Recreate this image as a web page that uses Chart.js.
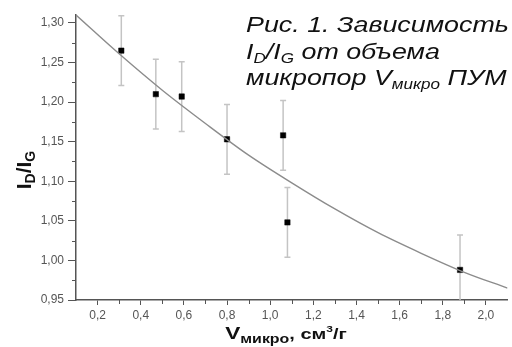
<!DOCTYPE html>
<html>
<head>
<meta charset="utf-8">
<script src="https://cdn.jsdelivr.net/npm/chart.js"></script>
<style>
  html, body { margin: 0; padding: 0; background: #fff; }
</style>
</head>
<body>
<canvas id="chart" width="512" height="347"></canvas>
<script>
// measured points: micropore volume (cm3/g) vs ID/IG ratio
const volume = [0.31, 0.47, 0.59, 0.80, 1.06, 1.08, 1.88];
const ratio = [1.265, 1.210, 1.207, 1.153, 1.158, 1.048, 0.988];
const ratioErr = [0.044, 0.044, 0.044, 0.044, 0.044, 0.044, 0.044];

const fitVolume = [0.10, 0.30, 0.50, 0.70, 0.90, 1.10, 1.30, 1.50, 1.70, 1.90, 2.10];
const fitRatio = [1.310, 1.261, 1.215, 1.173, 1.133, 1.098, 1.065, 1.035, 1.009, 0.985, 0.965];

const xTicks = [0.2, 0.4, 0.6, 0.8, 1.0, 1.2, 1.4, 1.6, 1.8, 2.0];
const yTicks = [0.95, 1.00, 1.05, 1.10, 1.15, 1.20, 1.25, 1.30];

const axisColor = '#555';
const FONT = '"Liberation Sans", Arial, sans-serif';

// draws a row of text pieces (for sub/superscripts), sx stretches it sideways
function drawRuns(ctx, x, y, runs, align, sx) {
    sx = sx || 1;
    let total = 0;
    runs.forEach(function (r) {
        ctx.font = r.font;
        total += ctx.measureText(r.text).width;
    });
    ctx.save();
    ctx.translate(x, y);
    ctx.scale(sx, 1);
    let cx = align === 'center' ? -total / 2 : 0;
    runs.forEach(function (r) {
        ctx.font = r.font;
        ctx.fillText(r.text, cx, r.dy || 0);
        cx += ctx.measureText(r.text).width;
    });
    ctx.restore();
}

const errorBars = {
    id: 'errorBars',
    beforeDatasetsDraw(chart) {
        const ctx = chart.ctx;
        const xs = chart.scales.x, ys = chart.scales.y;
        const area = chart.chartArea;
        ctx.save();
        ctx.beginPath();
        ctx.rect(area.left, area.top, area.right - area.left, area.bottom - area.top);
        ctx.clip();
        ctx.strokeStyle = '#c4c4c4';
        ctx.lineWidth = 1.5;
        volume.forEach(function (v, i) {
            const px = xs.getPixelForValue(v);
            const top = ys.getPixelForValue(ratio[i] + ratioErr[i]);
            const bot = ys.getPixelForValue(ratio[i] - ratioErr[i]);
            ctx.beginPath();
            ctx.moveTo(px, top); ctx.lineTo(px, bot);
            ctx.moveTo(px - 3, top); ctx.lineTo(px + 3, top);
            ctx.moveTo(px - 3, bot); ctx.lineTo(px + 3, bot);
            ctx.stroke();
        });
        ctx.restore();
    }
};

const decorations = {
    id: 'decorations',
    afterDraw(chart) {
        const ctx = chart.ctx;
        const xs = chart.scales.x, ys = chart.scales.y;
        const area = chart.chartArea;
        ctx.save();

        // minor ticks halfway between major ones
        ctx.strokeStyle = axisColor;
        ctx.lineWidth = 1;
        ctx.beginPath();
        for (let i = 0; i <= xTicks.length; i++) {
            const a = i === 0 ? xTicks[0] - 0.2 : xTicks[i - 1];
            const m = a + 0.1;
            if (m <= xs.min || m >= xs.max) continue;
            const px = Math.round(xs.getPixelForValue(m)) + 0.5;
            ctx.moveTo(px, area.bottom); ctx.lineTo(px, area.bottom + 4);
        }
        for (let i = 0; i < yTicks.length; i++) {
            const m = yTicks[i] + 0.025;
            if (m >= ys.max) continue;
            const py = Math.round(ys.getPixelForValue(m)) + 0.5;
            ctx.moveTo(area.left, py); ctx.lineTo(area.left - 4, py);
        }
        ctx.stroke();

        // axis titles
        ctx.fillStyle = '#111';
        ctx.textBaseline = 'alphabetic';
        drawRuns(ctx, 286, 339, [
            { text: 'V', font: 'bold 17px ' + FONT },
            { text: 'микро', font: 'bold 12px ' + FONT, dy: 4 },
            { text: ', см', font: 'bold 15px ' + FONT },
            { text: '3', font: 'bold 9px ' + FONT, dy: -7 },
            { text: '/г', font: 'bold 15px ' + FONT }
        ], 'center', 1.33);

        ctx.save();
        ctx.translate(31, 170);
        ctx.rotate(-Math.PI / 2);
        drawRuns(ctx, 0, 0, [
            { text: 'I', font: 'bold 21px ' + FONT },
            { text: 'D', font: 'bold 14px ' + FONT, dy: 4 },
            { text: '/I', font: 'bold 21px ' + FONT },
            { text: 'G', font: 'bold 14px ' + FONT, dy: 4 }
        ], 'center');
        ctx.restore();

        // caption block
        const it = 'italic 22px ' + FONT, its = 'italic 14px ' + FONT;
        const stretch = 1.22;
        drawRuns(ctx, 246, 32, [{ text: 'Рис. 1. Зависимость', font: it }], 'left', stretch);
        drawRuns(ctx, 246, 59, [
            { text: 'I', font: it },
            { text: 'D', font: its, dy: 4 },
            { text: '/I', font: it },
            { text: 'G', font: its, dy: 4 },
            { text: ' от объема', font: it }
        ], 'left', stretch);
        drawRuns(ctx, 246, 85, [
            { text: 'микропор V', font: it },
            { text: 'микро', font: its, dy: 4 },
            { text: ' ПУМ', font: it }
        ], 'left', stretch);
        ctx.restore();
    }
};

new Chart(document.getElementById('chart'), {
    type: 'scatter',
    data: {
        datasets: [
            {
                type: 'line',
                data: fitVolume.map(function (v, i) { return { x: v, y: fitRatio[i] }; }),
                borderColor: '#8c8c8c',
                borderWidth: 1.4,
                pointRadius: 0,
                cubicInterpolationMode: 'monotone',
                fill: false
            },
            {
                data: volume.map(function (v, i) { return { x: v, y: ratio[i] }; }),
                pointStyle: 'rect',
                pointRadius: 3.8,
                backgroundColor: '#000',
                borderColor: '#000',
                borderWidth: 0.5
            }
        ]
    },
    options: {
        responsive: false,
        animation: false,
        devicePixelRatio: 1,
        layout: { padding: { top: 15, right: 2, left: 0, bottom: 0 } },
        plugins: { legend: { display: false }, tooltip: { enabled: false } },
        scales: {
            x: {
                type: 'linear',
                min: 0.1,
                max: 2.1,
                afterBuildTicks: function (scale) {
                    scale.ticks = xTicks.map(function (v) { return { value: v }; });
                },
                afterFit: function (scale) { scale.height = 47; },
                border: { color: axisColor, width: 1.5 },
                grid: { drawOnChartArea: false, tickLength: 5, color: axisColor },
                ticks: {
                    color: '#555',
                    padding: 3,
                    maxRotation: 0,
                    font: { family: FONT, size: 12 },
                    callback: function (v) { return v.toFixed(1).replace('.', ','); }
                }
            },
            y: {
                type: 'linear',
                min: 0.95,
                max: 1.31,
                afterBuildTicks: function (scale) {
                    scale.ticks = yTicks.map(function (v) { return { value: v }; });
                },
                afterFit: function (scale) { scale.width = 76; },
                border: { color: axisColor, width: 1.5 },
                grid: { drawOnChartArea: false, tickLength: 8, color: axisColor },
                ticks: {
                    color: '#555',
                    padding: 4,
                    font: { family: FONT, size: 12 },
                    callback: function (v) { return v.toFixed(2).replace('.', ','); }
                }
            }
        }
    },
    plugins: [errorBars, decorations]
});
</script>
</body>
</html>
